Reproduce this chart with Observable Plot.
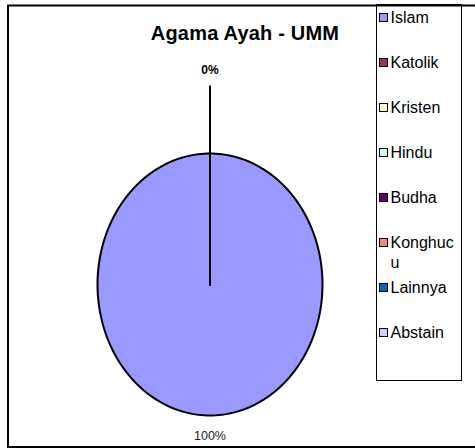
<!DOCTYPE html>
<html><head><meta charset="utf-8">
<script src="https://cdn.jsdelivr.net/npm/d3@7"></script>
<script src="https://cdn.jsdelivr.net/npm/@observablehq/plot@0.6"></script>
<style>
body{margin:0;background:#fff;font-family:"Liberation Sans",Arial,sans-serif;}
#wrap{position:relative;width:475px;height:448px;overflow:hidden;}
#chart{position:absolute;left:0;top:0;}
#title{position:absolute;left:130px;top:21px;width:230px;text-align:center;font-weight:bold;font-size:20px;line-height:24px;color:#000;letter-spacing:0.2px;}
#legend{position:absolute;left:376px;top:4px;width:86px;height:377px;border:1.5px solid #000;box-sizing:border-box;}
.item{position:absolute;left:1.5px;display:flex;align-items:flex-start;font-size:16px;line-height:20px;color:#000;}
.sw{width:7px;height:7px;border:1.5px solid #000;margin-top:5px;margin-right:3px;flex:none}
.lbl{width:66px;word-break:break-all}
</style></head><body>
<div id="wrap"><div id="chart"></div><div id="title"></div><div id="legend"></div></div>
<script>
const title = "Agama Ayah - UMM";
const categories = ["Islam","Katolik","Kristen","Hindu","Budha","Konghucu","Lainnya","Abstain"];
const values = [100,0,0,0,0,0,0,0];
const colors = ["#9999FF","#993366","#FFFFCC","#CCFFFF","#660066","#FF8080","#0066CC","#CCCCFF"];

const rows = categories.map((c,i)=>({cat:c, value:values[i], color:colors[i]}));
const total = d3.sum(values);
const arcs = d3.pie().value(d=>d.value).sort(null).startAngle(0).endAngle(2*Math.PI)(rows);

// slice polygons (unit circle, angle 0 at top, clockwise)
const poly = [];
arcs.forEach(a=>{
  const n = Math.max(2, Math.round((a.endAngle-a.startAngle)/(2*Math.PI)*240));
  poly.push({cat:a.data.cat, color:a.data.color, x:0, y:0});
  if (a.endAngle > a.startAngle) {
    for (let k=0;k<=n;k++){
      const t = a.startAngle + (a.endAngle-a.startAngle)*k/n;
      poly.push({cat:a.data.cat, color:a.data.color, x:Math.sin(t), y:Math.cos(t)});
    }
  } else {
    poly.push({cat:a.data.cat, color:a.data.color, x:Math.sin(a.startAngle), y:Math.cos(a.startAngle)});
  }
  poly.push({cat:a.data.cat, color:a.data.color, x:0, y:0});
});

// labels
const labels = arcs.map(a=>{
  const mid = (a.startAngle+a.endAngle)/2;
  const zero = a.data.value === 0;
  const r = zero ? 1.64 : 1.16;
  return {cat:a.data.cat, zero, mid, text: d3.format(".0%")(a.data.value/total),
          x:Math.sin(mid)*r, y:Math.cos(mid)*r,
          x1:Math.sin(mid), y1:Math.cos(mid), x2:Math.sin(mid)*1.52, y2:Math.cos(mid)*1.52};
});
const zeroLabels = labels.filter(d=>d.zero);
const leaders = zeroLabels.slice(0,1);

const chart = Plot.plot({
  width:475, height:448, margin:0,
  x:{domain:[-1,1], range:[97,322], axis:null},
  y:{domain:[-1,1], range:[415,153], axis:null},
  color:{type:"identity"},
  style:{fontFamily:'"Liberation Sans", Arial, sans-serif', background:"transparent"},
  marks:[
    Plot.frame({insetLeft:7.5, insetTop:5, insetBottom:1.5, insetRight:-5, stroke:"#000", strokeWidth:2}),
    Plot.line(poly, {x:"x", y:"y", z:"cat", fill:"color", stroke:"#000", strokeWidth:2, strokeLinejoin:"round", curve:"linear"}),
    Plot.link(leaders, {x1:"x1", y1:"y1", x2:"x2", y2:"y2", stroke:"#000", strokeWidth:2}),
    Plot.text(zeroLabels.slice(0,1), {x:"x", y:"y", text:"text", fontSize:12, fontWeight:"bold", fill:"#000"}),
    Plot.text(labels.filter(d=>!d.zero), {x:"x", y:"y", text:"text", fontSize:12.5, fill:"#222"})
  ]
});
document.getElementById("chart").appendChild(chart);
document.getElementById("title").textContent = title;

const lg = document.getElementById("legend");
categories.forEach((c,i)=>{
  const it = document.createElement("div");
  it.className = "item";
  it.style.top = (18 + 45*i - 10 - 5.5) + "px";
  const sw = document.createElement("div"); sw.className="sw"; sw.style.background = colors[i];
  const lb = document.createElement("div"); lb.className="lbl"; lb.textContent = c;
  it.appendChild(sw); it.appendChild(lb); lg.appendChild(it);
});
</script></body></html>
